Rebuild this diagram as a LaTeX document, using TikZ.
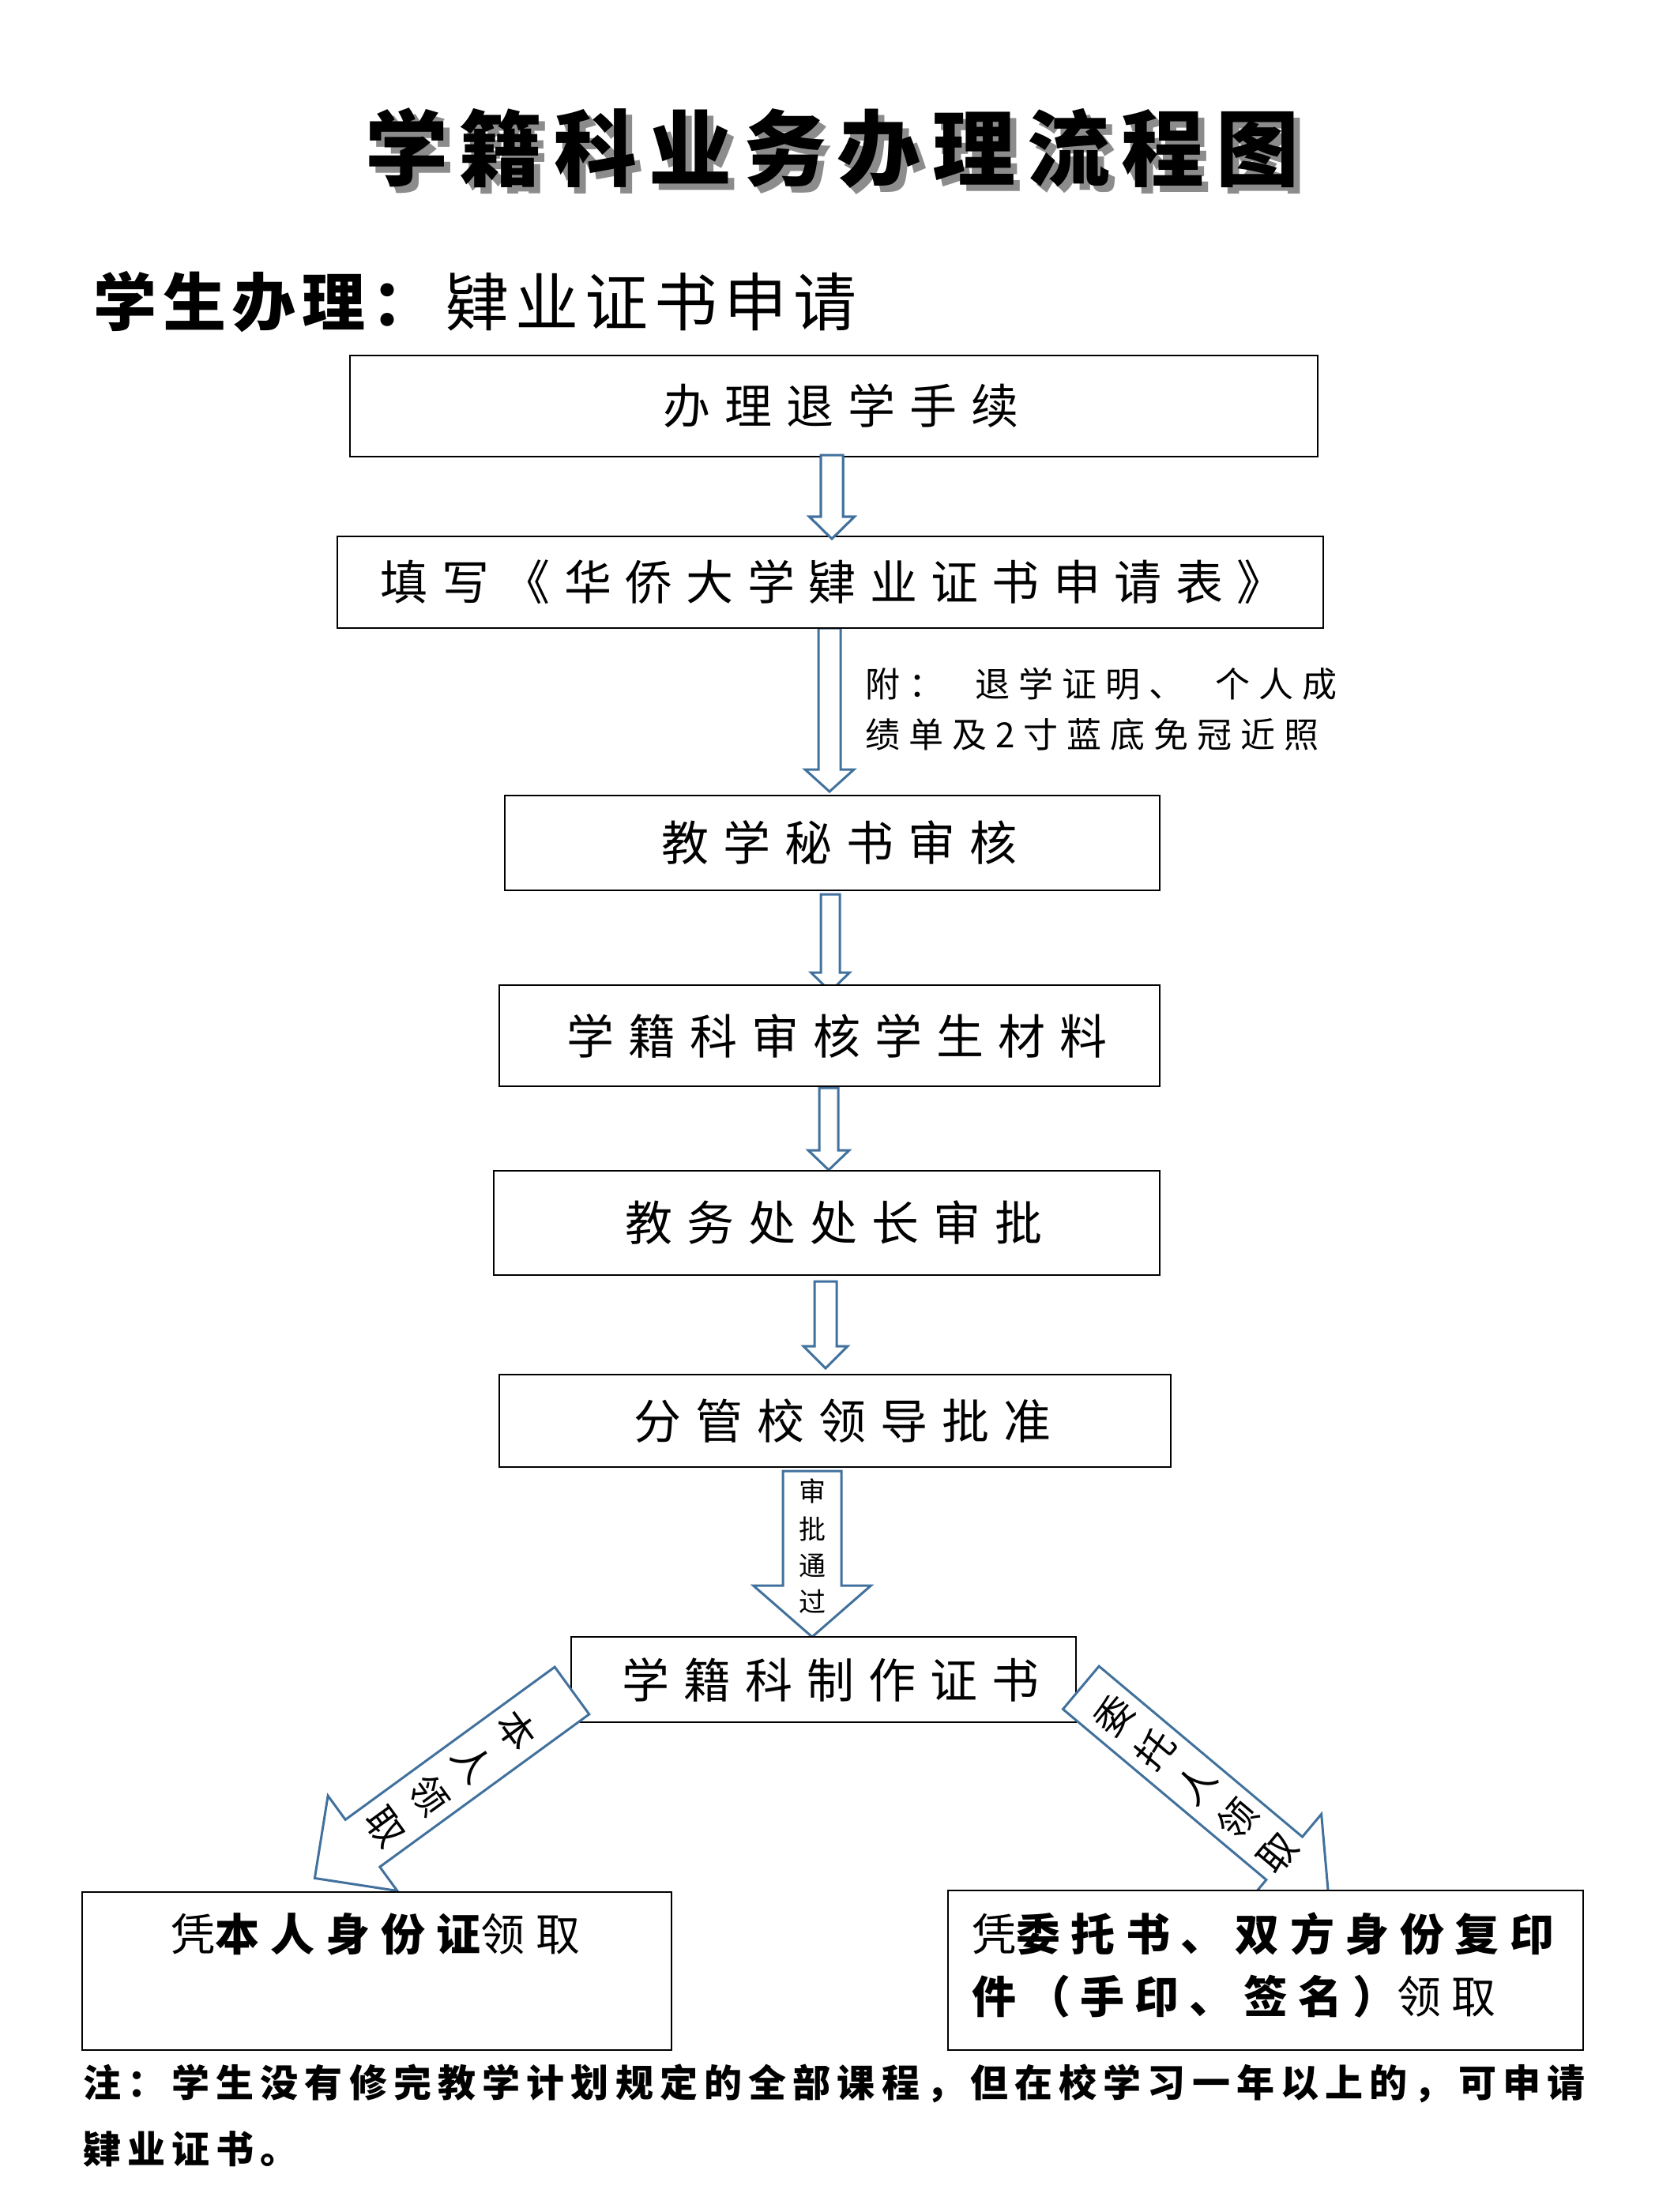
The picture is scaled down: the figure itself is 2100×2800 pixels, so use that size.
\documentclass[tikz,border=0pt]{standalone}
\usepackage{fontspec}
\setmainfont{Noto Sans CJK SC}
\definecolor{arrowblue}{HTML}{41719C}
\newcommand\ls[2]{{\addfontfeature{LetterSpace=#1}#2\kern-0.#1em}}
\tikzset{
  flowbox/.style={draw=black, line width=2.2pt, fill=white, inner sep=0pt},
  boxtext/.style={font=\fontsize{60}{72}\selectfont},
  blockarrow/.style={draw=arrowblue, line width=3pt, fill=white, line join=miter},
  arrowchar/.style={font=\fontsize{48}{48}\selectfont, inner sep=0pt},
  smallchar/.style={font=\fontsize{34}{34}\selectfont, inner sep=0pt},
}
% vertical block arrow: cx, ytop, ybase, ytip, shaft half width, head half width
\newcommand\varrow[6]{%
  \draw[blockarrow] ({#1-#5},#2) -- ({#1+#5},#2) -- ({#1+#5},#3) -- ({#1+#6},#3)
    -- (#1,#4) -- ({#1-#6},#3) -- ({#1-#5},#3) -- cycle;}
\begin{document}
\begin{tikzpicture}[x=1pt,y=-1pt]
\path[use as bounding box, fill=white] (0,0) rectangle (2100,2800);

% title with shadow
\node[font=\fontsize{105}{110}\selectfont\bfseries, text=black!45] (titleshadow) at (1054,196) {\ls{14}{学籍科业务办理流程图}};
\node[font=\fontsize{105}{110}\selectfont\bfseries] (title) at (1046,188) {\ls{14}{学籍科业务办理流程图}};

% subtitle
\node[anchor=west, inner sep=0pt, font=\fontsize{80}{82}\selectfont] (subtitle) at (118,382)
  {\ls{10}{{\bfseries 学生办理：}\hspace{14pt}肄业证书申请}};

% arrows
\varrow{1053}{576}{654}{682}{14}{28.5}
\varrow{1050}{795}{974}{1002}{14}{31}
\varrow{1051}{1132}{1231}{1255}{12}{24.5}
\varrow{1049}{1377}{1456}{1481}{12}{26}
\varrow{1045}{1622}{1704}{1732}{14}{28}
\varrow{1028}{1862}{2007}{2072}{37}{74.5}

% boxes
\node[flowbox, boxtext, minimum width=1225pt, minimum height=128pt] (b1) at (1055.5,514) {\ls{30}{办理退学手续}};
\node[flowbox, boxtext, minimum width=1248pt, minimum height=116pt] (b2) at (1051,737) {\hspace*{-12pt}\ls{29}{填写《华侨大学肄业证书申请表》}};
\node[flowbox, boxtext, minimum width=829pt, minimum height=120pt] (b3) at (1053.5,1067) {\ls{30}{教学秘书审核}};
\node[flowbox, boxtext, minimum width=836pt, minimum height=128pt] (b4) at (1050,1311) {\ls{30}{学籍科审核学生材料}};
\node[flowbox, boxtext, minimum width=843pt, minimum height=132pt] (b5) at (1046.5,1548) {\ls{30}{教务处处长审批}};
\node[flowbox, boxtext, minimum width=850pt, minimum height=117pt] (b6) at (1057,1798.5) {\ls{30}{分管校领导批准}};

% top of arrow 1 lies over the bottom edge of box 1
\varrow{1053}{576}{654}{682}{14}{28.5}

\node[flowbox, boxtext, minimum width=639pt, minimum height=108pt] (b7) at (1042.5,2126) {\ls{30}{学籍科制作证书}};

% note beside arrow 2
\node[anchor=west, inner sep=0pt, font=\fontsize{44}{50}\selectfont] (note1) at (1095,866) {\ls{25}{附：\hspace{40pt}退学证明、\hspace{40pt}个人成}};
\node[anchor=west, inner sep=0pt, font=\fontsize{44}{50}\selectfont] (note2) at (1095,930) {\ls{25}{绩单及2寸蓝底免冠近照}};

% text in the big arrow
\node[smallchar] (c1) at (1028,1887) {审};
\node[smallchar] (c2) at (1028,1935) {批};
\node[smallchar] (c3) at (1028,1982) {通};
\node[smallchar] (c4) at (1028,2027) {过};

% left diagonal arrow
\begin{scope}[shift={(724,2140)}, rotate=216.1]
  \draw[blockarrow] (0,-37) -- (328,-37) -- (328,-74.5) -- (403,0) -- (328,74.5) -- (328,37) -- (0,37) -- cycle;
  \node[arrowchar, rotate=-54] (l1) at (86,0) {本};
  \node[arrowchar, rotate=-54] (l2) at (155,0) {人};
  \node[arrowchar, rotate=-54] (l3) at (224,0) {领};
  \node[arrowchar, rotate=-54] (l4) at (293,0) {取};
\end{scope}

% right diagonal arrow
\begin{scope}[shift={(1368.3,2136.3)}, rotate=-40]
  \draw[blockarrow] (0,-35.5) -- (336,-35.5) -- (336,-73) -- (409,0) -- (336,73) -- (336,35.5) -- (0,35.5) -- cycle;
  \node[arrowchar, rotate=50] (r1) at (54,0) {委};
  \node[arrowchar, rotate=50] (r2) at (122,0) {托};
  \node[arrowchar, rotate=50] (r3) at (190,0) {人};
  \node[arrowchar, rotate=50] (r4) at (258,0) {领};
  \node[arrowchar, rotate=50] (r5) at (326,0) {取};
\end{scope}

% bottom boxes
\node[flowbox, minimum width=746pt, minimum height=200pt] (b8) at (477,2495) {};
\node[anchor=west, inner sep=0pt, font=\fontsize{56}{60}\selectfont] (t8) at (216,2448)
  {\ls{25}{凭{\bfseries 本人身份证}领取}};
\node[flowbox, minimum width=804pt, minimum height=202pt] (b9) at (1602,2494) {};
\node[anchor=west, inner sep=0pt, font=\fontsize{56}{60}\selectfont] (t9a) at (1230,2448)
  {\ls{24}{凭{\bfseries 委托书、双方身份复印}}};
\node[anchor=west, inner sep=0pt, font=\fontsize{56}{60}\selectfont] (t9b) at (1230,2527)
  {\ls{23}{{\bfseries 件（手印、签名）}领取}};

% footnote
\node[anchor=west, inner sep=0pt, font=\fontsize{48}{52}\selectfont\bfseries] (foot1) at (105,2637)
  {\ls{17}{注：学生没有修完教学计划规定的全部课程，但在校学习一年以上的，可申请}};
\node[anchor=west, inner sep=0pt, font=\fontsize{48}{52}\selectfont\bfseries] (foot2) at (105,2720)
  {\ls{17}{肄业证书。}};
\end{tikzpicture}
\end{document}
